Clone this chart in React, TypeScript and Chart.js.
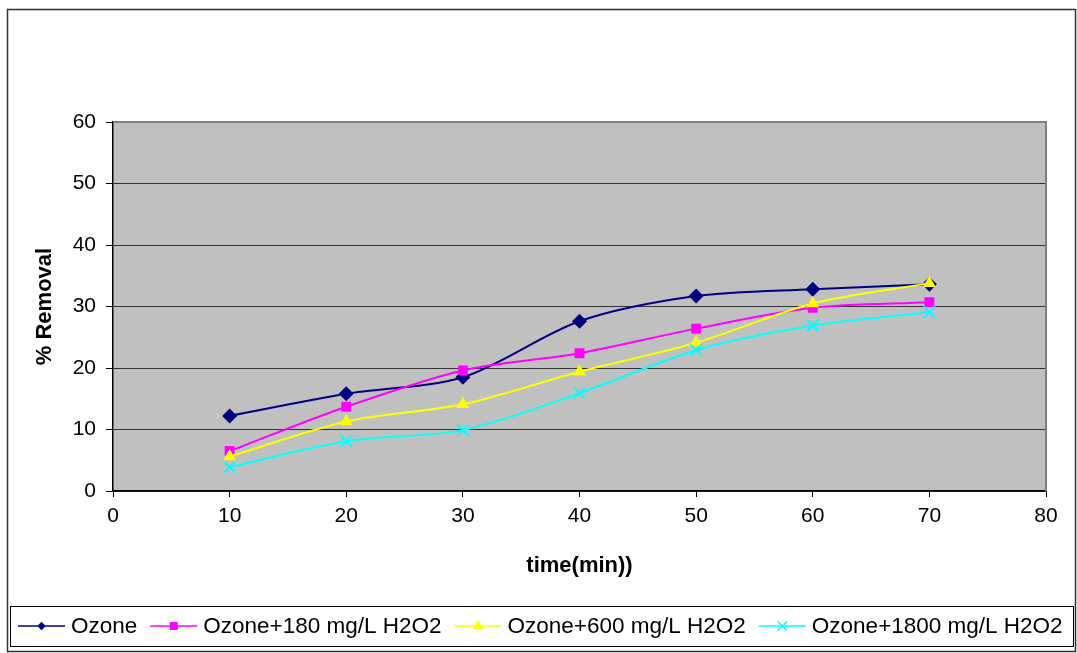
import React, { useEffect, useRef } from "react";
import { Chart, registerables } from "chart.js";

Chart.register(...registerables);

// Reaction time (min) and percent removal per treatment
const times = [10, 20, 30, 40, 50, 60, 70];
const ozone = [12.2, 15.8, 18.5, 27.6, 31.7, 32.8, 33.6];
const ozone180 = [6.5, 13.7, 19.6, 22.4, 26.4, 29.8, 30.7];
const ozone600 = [5.6, 11.3, 14.1, 19.4, 24.1, 30.5, 33.8];
const ozone1800 = [3.9, 8.1, 9.9, 15.9, 22.9, 26.9, 29.1];

const seriesLabels = [
  "Ozone",
  "Ozone+180 mg/L H2O2",
  "Ozone+600 mg/L H2O2",
  "Ozone+1800 mg/L H2O2",
];
const xTicks = { min: 0, max: 80, step: 10 };
const yTicks = { min: 0, max: 60, step: 10 };

const FONT = "'Liberation Sans', Arial, sans-serif";

const W = 1077;
const H = 653;
const PLOT = { left: 113, right: 1046, top: 122, bottom: 491 };

const toPoints = (vals: number[]) => vals.map((v, i) => ({ x: times[i], y: v }));

function drawMarker(
  ctx: CanvasRenderingContext2D,
  style: string,
  x: number,
  y: number,
  r: number,
  fill: string,
  stroke: string
) {
  ctx.save();
  ctx.fillStyle = fill;
  ctx.strokeStyle = stroke;
  ctx.lineWidth = 1.5;
  ctx.beginPath();
  const s = Math.SQRT1_2 * r;
  if (style === "rectRot") {
    ctx.moveTo(x - s, y);
    ctx.lineTo(x, y + s);
    ctx.lineTo(x + s, y);
    ctx.lineTo(x, y - s);
    ctx.closePath();
    ctx.fill();
  } else if (style === "rect") {
    ctx.rect(x - s, y - s, 2 * s, 2 * s);
    ctx.fill();
  } else if (style === "triangle") {
    ctx.moveTo(x, y - r);
    ctx.lineTo(x + r * 0.866, y + r * 0.5);
    ctx.lineTo(x - r * 0.866, y + r * 0.5);
    ctx.closePath();
    ctx.fill();
  } else if (style === "crossRot") {
    ctx.moveTo(x - s, y - s);
    ctx.lineTo(x + s, y + s);
    ctx.moveTo(x - s, y + s);
    ctx.lineTo(x + s, y - s);
    ctx.stroke();
  }
  ctx.restore();
}

// Plot background, frame and the boxed legend at the bottom
const framePlugin = {
  id: "frame",
  beforeDraw(chart: any) {
    const { ctx, chartArea: a } = chart;
    ctx.save();
    ctx.fillStyle = "#ffffff";
    ctx.fillRect(0, 0, W, H);
    ctx.fillStyle = "#C0C0C0";
    ctx.fillRect(a.left, a.top, a.right - a.left, a.bottom - a.top);
    ctx.restore();
  },
  afterDraw(chart: any) {
    const { ctx, chartArea: a } = chart;
    ctx.save();
    // gray top/right plot edges
    ctx.strokeStyle = "#808080";
    ctx.lineWidth = 2;
    ctx.beginPath();
    ctx.moveTo(a.left, a.top);
    ctx.lineTo(a.right, a.top);
    ctx.lineTo(a.right, a.bottom);
    ctx.stroke();

    // outer chart border
    ctx.strokeStyle = "#303030";
    ctx.lineWidth = 1.5;
    ctx.strokeRect(7.5, 9.5, 1068, 642);

    // legend box
    const lx = 10.5, ly = 606.5, lw = 1063, lh = 40;
    ctx.fillStyle = "#ffffff";
    ctx.fillRect(lx, ly, lw, lh);
    ctx.strokeStyle = "#000000";
    ctx.lineWidth = 1;
    ctx.strokeRect(lx, ly, lw, lh);

    ctx.font = `22.5px ${FONT}`;
    ctx.textBaseline = "middle";
    const cy = 626;
    let x = 18;
    chart.data.datasets.forEach((ds: any) => {
      ctx.strokeStyle = ds.borderColor;
      ctx.lineWidth = 1.5;
      ctx.beginPath();
      ctx.moveTo(x, cy);
      ctx.lineTo(x + 47, cy);
      ctx.stroke();
      drawMarker(ctx, ds.pointStyle, x + 23.5, cy, ds.pointRadius * 0.8, ds.pointBackgroundColor, ds.pointBorderColor);
      ctx.fillStyle = "#000000";
      ctx.fillText(ds.label, x + 53, cy + 1);
      x += 53 + ctx.measureText(ds.label).width + 13;
    });
    ctx.restore();
  },
};

export default function App() {
  const canvasRef = useRef<HTMLCanvasElement | null>(null);

  useEffect(() => {
    document.body.style.margin = "0";
    const canvas = canvasRef.current;
    if (!canvas) return;

    const mk = (
      label: string,
      vals: number[],
      color: string,
      pointStyle: string,
      radius: number,
      order: number
    ) => ({
      label,
      data: toPoints(vals),
      borderColor: color,
      backgroundColor: color,
      pointBackgroundColor: color,
      pointBorderColor: color,
      borderWidth: 2,
      pointStyle,
      pointRadius: radius,
      pointBorderWidth: pointStyle === "crossRot" ? 2 : 0,
      tension: 0.3,
      fill: false,
      order,
    });

    const chart = new Chart(canvas, {
      type: "line",
      data: {
        datasets: [
          mk(seriesLabels[0], ozone, "#000080", "rectRot", 7.5, 4),
          mk(seriesLabels[1], ozone180, "#FF00FF", "rect", 7, 3),
          mk(seriesLabels[2], ozone600, "#FFFF00", "triangle", 7.5, 2),
          mk(seriesLabels[3], ozone1800, "#00FFFF", "crossRot", 8, 1),
        ] as any,
      },
      options: {
        responsive: false,
        animation: false,
        devicePixelRatio: 1,
        layout: {
          padding: { left: 0, right: W - PLOT.right, top: PLOT.top, bottom: H - PLOT.bottom - 100 },
        },
        plugins: {
          legend: { display: false },
          tooltip: { enabled: false },
        },
        scales: {
          x: {
            type: "linear",
            min: xTicks.min,
            max: xTicks.max,
            afterFit: (s: any) => {
              s.height = 100;
            },
            ticks: {
              stepSize: xTicks.step,
              color: "#000",
              font: { family: FONT, size: 21 },
              padding: 7,
              maxRotation: 0,
            },
            grid: {
              drawOnChartArea: false,
              drawTicks: true,
              tickLength: 6,
              tickColor: "#000",
            },
            border: { display: true, color: "#000", width: 1.5 },
            title: {
              display: true,
              text: "time(min))",
              color: "#000",
              font: { family: FONT, size: 22, weight: "bold" },
              padding: { top: 0, bottom: 12 },
            },
          },
          y: {
            type: "linear",
            min: yTicks.min,
            max: yTicks.max,
            afterFit: (s: any) => {
              s.width = PLOT.left;
            },
            ticks: {
              stepSize: yTicks.step,
              color: "#000",
              font: { family: FONT, size: 21 },
              padding: 10,
            },
            grid: {
              drawOnChartArea: true,
              drawTicks: true,
              tickLength: 7,
              color: "#333333",
              lineWidth: 1,
              tickColor: "#000",
            },
            border: { display: true, color: "#000", width: 1.5 },
            title: {
              display: true,
              text: "% Removal",
              color: "#000",
              font: { family: FONT, size: 22, weight: "bold" },
              padding: { top: 32, bottom: 0 },
            },
          },
        },
      } as any,
      plugins: [framePlugin],
    });

    return () => chart.destroy();
  }, []);

  return (
    <div style={{ width: W, height: H }}>
      <canvas ref={canvasRef} width={W} height={H} style={{ display: "block" }} />
    </div>
  );
}
